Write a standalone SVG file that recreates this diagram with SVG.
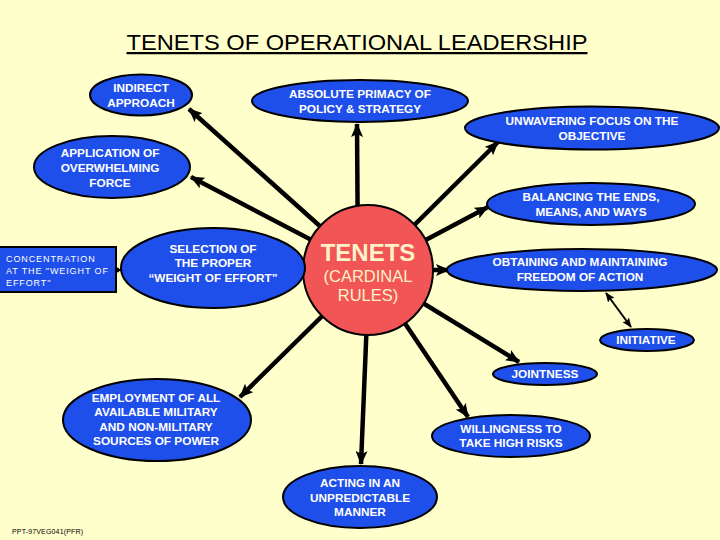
<svg xmlns="http://www.w3.org/2000/svg" width="720" height="540" viewBox="0 0 720 540">
<defs>
<style>
.n{fill:#1F4FEA;stroke:#000;stroke-width:2}
.t{font-family:"Liberation Sans",Arial,sans-serif;font-weight:bold;font-size:11.8px;fill:#fff;text-anchor:middle}
.c{stroke:#000;stroke-width:4.5;fill:none;marker-end:url(#ah)}
.thin{stroke:#000;stroke-width:2;fill:none}
</style>
<marker id="ah" markerUnits="userSpaceOnUse" markerWidth="14" markerHeight="12" refX="13" refY="6" orient="auto"><path d="M0,0 L14,6 L0,12 L3,6 Z" fill="#000"/></marker>
<marker id="ahs" markerUnits="userSpaceOnUse" markerWidth="10" markerHeight="8" refX="9" refY="4" orient="auto"><path d="M0,0 L10,4 L0,8 L2,4 Z" fill="#000"/></marker>
<marker id="ahss" markerUnits="userSpaceOnUse" markerWidth="10" markerHeight="8" refX="1" refY="4" orient="auto"><path d="M10,0 L0,4 L10,8 L8,4 Z" fill="#000"/></marker>
</defs>
<rect width="720" height="540" fill="#FFFFCC"/>
<text x="357" y="50" font-family="Liberation Sans,Arial,sans-serif" font-size="22.5" text-anchor="middle" text-decoration="underline" textLength="461" lengthAdjust="spacingAndGlyphs">TENETS OF OPERATIONAL LEADERSHIP</text>
<g id="connectors">
<line class="c" x1="369" y1="270" x2="189" y2="109"/>
<line class="c" x1="358" y1="270" x2="357" y2="124"/>
<line class="c" x1="369" y1="270" x2="498" y2="142"/>
<line class="c" x1="369" y1="270" x2="191" y2="177"/>
<line class="c" x1="369" y1="270" x2="488" y2="207"/>
<line class="c" x1="369" y1="270" x2="283" y2="270"/>
<line class="c" x1="369" y1="270" x2="449" y2="270"/>
<line class="c" x1="369" y1="270" x2="519" y2="362"/>
<line class="c" x1="369" y1="270" x2="468" y2="417"/>
<line class="c" x1="369" y1="270" x2="361" y2="464"/>
<line class="c" x1="369" y1="270" x2="240" y2="397"/>
<line class="thin" x1="116" y1="270" x2="147" y2="270" marker-end="url(#ahs)"/>
<circle cx="117" cy="270" r="2.5" fill="#000"/>
<line class="thin" x1="606" y1="293" x2="631" y2="327" marker-start="url(#ahss)" marker-end="url(#ahs)"/>
</g>
<g id="tenets">
<circle cx="368" cy="270" r="65" fill="#F25555" stroke="#000" stroke-width="2"/>
<text x="368" y="261" font-family="Liberation Sans,Arial,sans-serif" font-weight="bold" font-size="24" fill="#FFF2C8" text-anchor="middle">TENETS</text>
<text x="368" y="282" font-family="Liberation Sans,Arial,sans-serif" font-size="16.5" fill="#FFF2C8" text-anchor="middle">(CARDINAL</text>
<text x="368" y="301" font-family="Liberation Sans,Arial,sans-serif" font-size="16.5" fill="#FFF2C8" text-anchor="middle">RULES)</text>
</g>
<g id="indirect"><ellipse class="n" cx="141" cy="95" rx="51" ry="20.5"/><text class="t" x="141" y="92">INDIRECT</text><text class="t" x="141" y="107">APPROACH</text></g>
<g id="absolute"><ellipse class="n" cx="360" cy="101" rx="108" ry="21"/><text class="t" x="360" y="98">ABSOLUTE PRIMACY OF</text><text class="t" x="360" y="113">POLICY &amp; STRATEGY</text></g>
<g id="unwavering"><ellipse class="n" cx="592" cy="128" rx="127" ry="21.5"/><text class="t" x="592" y="125">UNWAVERING FOCUS ON THE</text><text class="t" x="592" y="140">OBJECTIVE</text></g>
<g id="application"><ellipse class="n" cx="112" cy="167" rx="78" ry="31"/><text class="t" x="110" y="157">APPLICATION OF</text><text class="t" x="110" y="172">OVERWHELMING</text><text class="t" x="110" y="187">FORCE</text></g>
<g id="balancing"><ellipse class="n" cx="591" cy="204" rx="104" ry="21"/><text class="t" x="591" y="201">BALANCING THE ENDS,</text><text class="t" x="591" y="216">MEANS, AND WAYS</text></g>
<g id="concentration"><rect x="-2" y="247" width="118" height="45" fill="#1F4FEA" stroke="#000" stroke-width="2"/><text font-family="Liberation Sans,Arial,sans-serif" font-size="9" letter-spacing="0.9" fill="#fff"><tspan x="6" y="262">CONCENTRATION</tspan><tspan x="6" y="274">AT THE "WEIGHT OF</tspan><tspan x="6" y="286">EFFORT"</tspan></text></g>
<g id="selection"><ellipse class="n" cx="213" cy="268" rx="92" ry="40"/><text class="t" x="213" y="253">SELECTION OF</text><text class="t" x="213" y="267">THE PROPER</text><text class="t" x="213" y="282">“WEIGHT OF EFFORT”</text></g>
<g id="obtaining"><ellipse class="n" cx="582" cy="270" rx="135" ry="21"/><text class="t" x="580" y="266">OBTAINING AND MAINTAINING</text><text class="t" x="580" y="281">FREEDOM OF ACTION</text></g>
<g id="initiative"><ellipse class="n" cx="647" cy="340" rx="47" ry="11"/><text class="t" x="646" y="344">INITIATIVE</text></g>
<g id="jointness"><ellipse class="n" cx="545" cy="374" rx="52" ry="11"/><text class="t" x="545" y="378">JOINTNESS</text></g>
<g id="employment"><ellipse class="n" cx="157" cy="420" rx="94" ry="41"/><text class="t" x="156" y="402">EMPLOYMENT OF ALL</text><text class="t" x="156" y="416">AVAILABLE MILITARY</text><text class="t" x="156" y="431">AND NON-MILITARY</text><text class="t" x="156" y="445">SOURCES OF POWER</text></g>
<g id="willingness"><ellipse class="n" cx="511" cy="436" rx="79" ry="21"/><text class="t" x="511" y="433">WILLINGNESS TO</text><text class="t" x="511" y="447">TAKE HIGH RISKS</text></g>
<g id="acting"><ellipse class="n" cx="360" cy="497" rx="77" ry="31"/><text class="t" x="360" y="487">ACTING IN AN</text><text class="t" x="360" y="502">UNPREDICTABLE</text><text class="t" x="360" y="516">MANNER</text></g>
<text x="12" y="534" font-family="Liberation Sans,Arial,sans-serif" font-size="7" fill="#000" textLength="71" lengthAdjust="spacing">PPT-97VEG041(PFR)</text>
</svg>
